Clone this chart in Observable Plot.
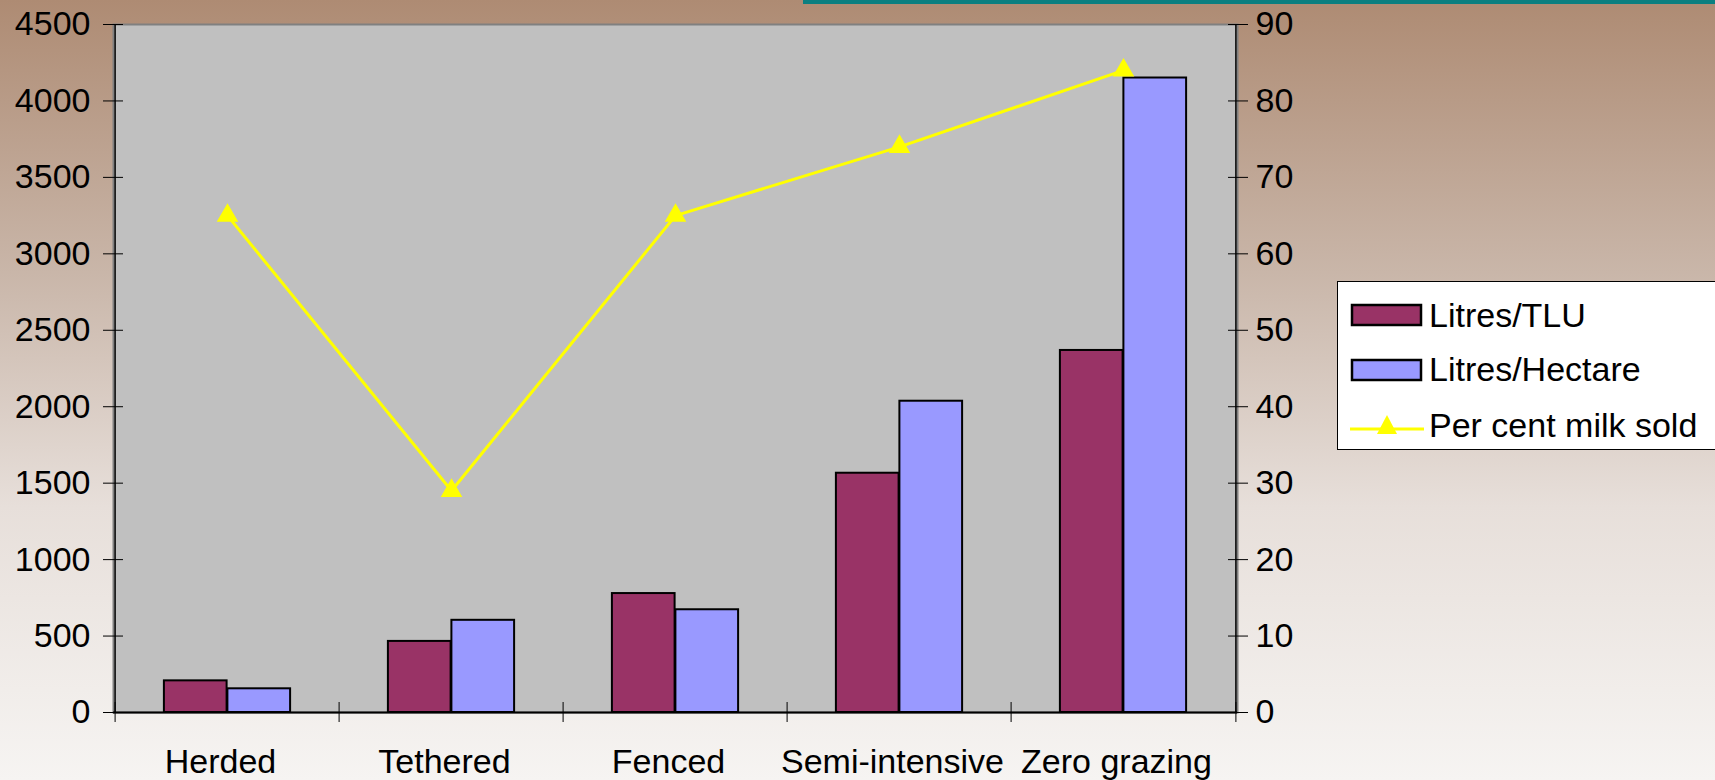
<!DOCTYPE html>
<html>
<head>
<meta charset="utf-8">
<script src="https://cdn.jsdelivr.net/npm/d3@7"></script>
<script src="https://cdn.jsdelivr.net/npm/@observablehq/plot@0.6"></script>
<style>
html, body { margin: 0; padding: 0; width: 1715px; height: 780px; overflow: hidden; }
body {
  position: relative;
  background: linear-gradient(to bottom, #ae8b73 0%, #c9b6a9 35%, #e7dfda 65%, #f6f4f2 100%);
  font-family: "Liberation Sans", Arial, sans-serif;
}
#topbar { position: absolute; left: 803px; top: 0; width: 912px; height: 4px; background: #0b7f80; }
#chart { position: absolute; left: 0; top: 0; }
#legend {
  position: absolute; left: 1337px; top: 281px; width: 430px; height: 169px;
  background: #fff; border: 1.5px solid #000; box-sizing: border-box;
}
#legend .item { position: absolute; left: 12px; height: 40px; display: flex; align-items: center; font-size: 34px; color: #000; white-space: nowrap; }
#legend .item svg { margin-right: 5px; }
</style>
</head>
<body>
<div id="topbar"></div>
<div id="chart"></div>
<div id="legend"></div>
<script>
// ---- data ----
const categories = ["Herded", "Tethered", "Fenced", "Semi-intensive", "Zero grazing"];
const litresPerTLU = [207, 465, 778, 1565, 2368];
const litresPerHectare = [155, 603, 672, 2036, 4150];
const perCentMilkSold = [65, 29, 65, 74, 84];
const leftTicks = [0, 500, 1000, 1500, 2000, 2500, 3000, 3500, 4000, 4500];
const rightTicks = [0, 10, 20, 30, 40, 50, 60, 70, 80, 90];
const seriesNames = ["Litres/TLU", "Litres/Hectare", "Per cent milk sold"];
const seriesColors = ["#993366", "#9999ff", "#ffff00"];

// ---- layout ----
const W = 1715, H = 780, mL = 113, mR = 478, mT = 24, mB = 68;
const bw = (W - mL - mR) / categories.length;
const barW = 63.5;
const leftMax = leftTicks[leftTicks.length - 1];
const rightMax = rightTicks[rightTicks.length - 1];
const k = leftMax / rightMax;

const tluRows = categories.map((c, i) => ({category: c, value: litresPerTLU[i]}));
const haRows = categories.map((c, i) => ({category: c, value: litresPerHectare[i]}));
const pctRows = categories.map((c, i) => ({category: c, value: perCentMilkSold[i]}));

const chart = Plot.plot({
  width: W, height: H,
  marginLeft: mL, marginRight: mR, marginTop: mT, marginBottom: mB,
  style: {background: "transparent", fontFamily: "'Liberation Sans', Arial, sans-serif", fontSize: "34px", color: "#000", overflow: "visible"},
  x: {domain: categories, padding: 0, axis: null},
  y: {domain: [0, leftMax], axis: null},
  marks: [
    Plot.frame({fill: "#c0c0c0", stroke: "#808080", strokeWidth: 2}),
    Plot.barY(tluRows, {x: "category", y: "value", fill: seriesColors[0], stroke: "#000", strokeWidth: 2,
      insetLeft: bw / 2 - barW, insetRight: bw / 2}),
    Plot.barY(haRows, {x: "category", y: "value", fill: seriesColors[1], stroke: "#000", strokeWidth: 2,
      insetLeft: bw / 2, insetRight: bw / 2 - barW}),
    Plot.ruleY([0], {stroke: "#000", strokeWidth: 2}),
    Plot.ruleX([categories[0]], {dx: -bw / 2, stroke: "#000", strokeWidth: 1.5}),
    Plot.ruleX([categories[categories.length - 1]], {dx: bw / 2, stroke: "#000", strokeWidth: 1.5}),
    Plot.line(pctRows, {x: "category", y: d => d.value * k, stroke: seriesColors[2], strokeWidth: 3}),
    Plot.dot(pctRows, {x: "category", y: d => d.value * k, symbol: "triangle", fill: seriesColors[2], stroke: "none", r: 8}),
    // left axis: crossing ticks + labels
    Plot.axisY(leftTicks, {anchor: "left", tickSize: 20, dx: 10, stroke: "#000", fill: "none", label: null, tickFormat: () => ""}),
    Plot.axisY(leftTicks, {anchor: "left", tickSize: 0, tickPadding: 23, fill: "#000", label: null, tickFormat: d => String(d)}),
    // right axis
    Plot.axisY(rightTicks.map(v => v * k), {anchor: "right", tickSize: 20, dx: -10, stroke: "#000", fill: "none", label: null, tickFormat: () => ""}),
    Plot.axisY(rightTicks.map(v => v * k), {anchor: "right", tickSize: 0, tickPadding: 18, fill: "#000", label: null, tickFormat: d => String(Math.round(d / k))}),
    // x axis: boundary ticks + labels
    Plot.axisX(categories, {anchor: "bottom", tickSize: 20, dx: -bw / 2, dy: -10, stroke: "#000", fill: "none", label: null, tickFormat: () => ""}),
    Plot.axisX([categories[categories.length - 1]], {anchor: "bottom", tickSize: 20, dx: bw / 2, dy: -10, stroke: "#000", fill: "none", label: null, tickFormat: () => ""}),
    Plot.axisX(categories, {anchor: "bottom", tickSize: 0, tickPadding: 36, dx: -7, fill: "#000", label: null})
  ]
});
document.getElementById("chart").appendChild(chart);

// ---- legend ----
const legend = document.getElementById("legend");
const rowTops = [13, 67.5, 123];
seriesNames.forEach((name, i) => {
  const item = document.createElement("div");
  item.className = "item";
  item.style.top = rowTops[i] + "px";
  let sw;
  if (i < 2) {
    sw = `<svg width="74" height="26"><rect x="2" y="3" width="69" height="20" fill="${seriesColors[i]}" stroke="#000" stroke-width="2.5"/></svg>`;
  } else {
    sw = `<svg width="74" height="26"><line x1="0" x2="74" y1="17" y2="17" stroke="${seriesColors[i]}" stroke-width="3"/><path d="M37,3 L47,22 L27,22 Z" fill="${seriesColors[i]}"/></svg>`;
  }
  item.innerHTML = sw + `<span>${name}</span>`;
  legend.appendChild(item);
});
</script>
</body>
</html>
